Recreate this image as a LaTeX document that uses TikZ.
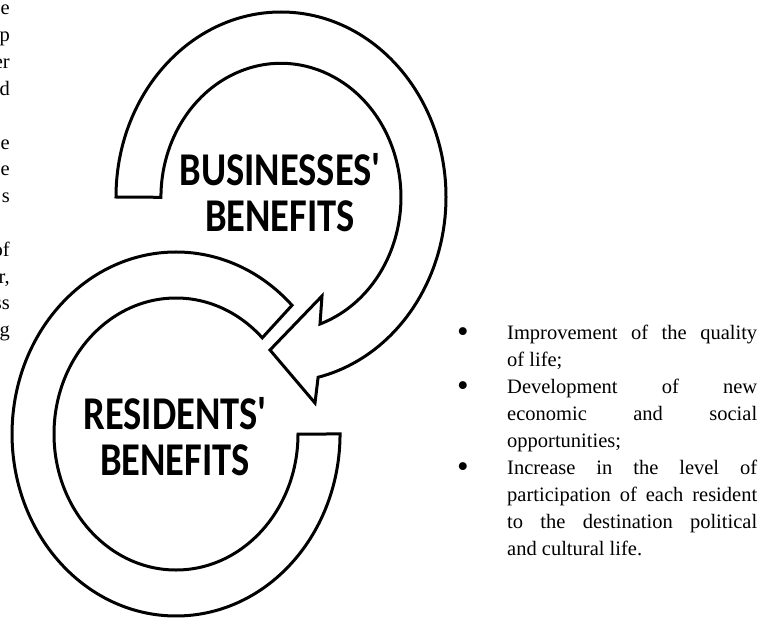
\documentclass[tikz,border=0pt]{standalone}
\usepackage{fontspec}
\setmainfont{Liberation Serif}
\newfontfamily\ringfont{Carlito}[FakeStretch=0.82, Ligatures=TeXOff]

\tikzset{
	ring/.style={draw=black, line width=3pt, line join=miter, fill=white},
	ringlabel/.style={font=\ringfont\bfseries\fontsize{47}{46}\selectfont, text width=300pt, align=center, inner sep=0pt, anchor=base},
	itemtext/.style={font=\fontsize{20.5}{27}\selectfont, text width=250pt, align=justify, inner sep=0pt, anchor=base west},
	itembullet/.style={font=\fontsize{33}{33}\selectfont, inner sep=0pt, anchor=base},
	cuttext/.style={font=\fontsize{20.5}{27}\selectfont, inner sep=0pt, anchor=base east}
}

\begin{document}
\begin{tikzpicture}[x=1pt,y=1pt]
		\useasboundingbox (0,0) rectangle (771,-618);
		
		% cut text at the left margin
		\node[cuttext] (cut1) at (10,-15) {e};
		\node[cuttext] (cut2) at (10,-41.8) {p};
		\node[cuttext] (cut3) at (10,-68.6) {er};
		\node[cuttext] (cut4) at (10,-95.4) {d};
		\node[cuttext] (cut5) at (10,-149) {e};
		\node[cuttext] (cut6) at (10,-175.8) {e};
		\node[cuttext] (cut7) at (10,-202.6) {s};
		\node[cuttext] (cut8) at (10,-256.2) {of};
		\node[cuttext] (cut9) at (10,-283) {r,};
		\node[cuttext] (cut10) at (10,-309.8) {ss};
		\node[cuttext] (cut11) at (10,-336.6) {g};
		
		% businesses ring with arrow head
		\draw[ring] (116,-197) arc[start angle=180, end angle=-77, x radius=165, y radius=185]
			-- (315,-403) -- (270,-350) -- (322,-296) -- (320,-324)
			arc[start angle=-71, end angle=180, x radius=120, y radius=134] -- cycle;
		
		% residents ring
		\draw[ring] (292,-305.3) arc[start angle=45, end angle=360, x radius=164, y radius=182]
			-- (298,-434)
			arc[start angle=360, end angle=45, x radius=122, y radius=136] -- cycle;
		
		\node[ringlabel] (business) at (280,-185) {BUSINESSES'\\BENEFITS};
		\node[ringlabel] (residents) at (175,-429) {RESIDENTS'\\BENEFITS};
		
		% benefits list
		\node[itembullet] (dot1) at (463,-342) {\textbullet};
		\node[itembullet] (dot2) at (463,-396) {\textbullet};
		\node[itembullet] (dot3) at (463,-477) {\textbullet};
		\node[itemtext] (item1) at (507,-339) {Improvement of the quality\linebreak of life;};
		\node[itemtext] (item2) at (507,-393) {Development of new\linebreak economic and social\linebreak opportunities;};
		\node[itemtext] (item3) at (507,-474) {Increase in the level of\linebreak participation of each resident\linebreak to the destination political\linebreak and cultural life.};
		
\end{tikzpicture}
\end{document}
